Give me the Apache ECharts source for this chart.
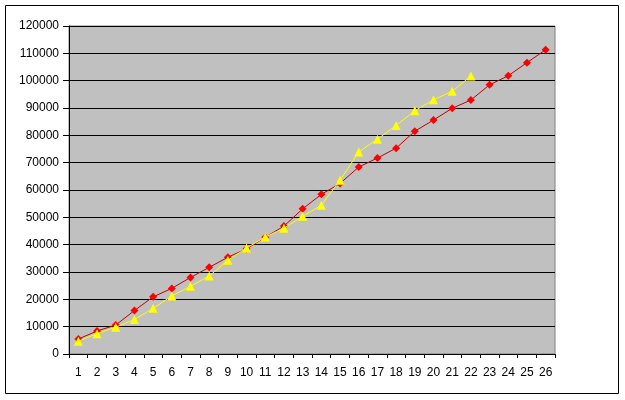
<!DOCTYPE html>
<html>
<head>
<meta charset="utf-8">
<script src="https://cdn.jsdelivr.net/npm/echarts@6/dist/echarts.min.js"></script>
<style>
html,body{margin:0;padding:0;background:#fff;}
#c{width:625px;height:400px;}
</style>
</head>
<body>
<div id="c"></div>
<script>
var categories = ['1','2','3','4','5','6','7','8','9','10','11','12','13','14','15','16','17','18','19','20','21','22','23','24','25','26'];
var redSeries = [5500, 8400, 10600, 15900, 20900, 24000, 28000, 31700, 35400, 38500, 42700, 46800, 53100, 58400, 62400, 68400, 71700, 75300, 81500, 85600, 89900, 92900, 98500, 101800, 106600, 111300];
var yellowSeries = [4700, 7400, 9800, 12600, 16700, 21200, 24800, 28500, 34300, 38800, 42800, 46000, 50400, 54400, 63600, 73900, 78600, 83600, 89000, 93000, 96100, 101700];
var yTicks = {min: 0, max: 120000, interval: 10000};

var chart = echarts.init(document.getElementById('c'), null, {renderer: 'canvas'});
chart.setOption({
  animation: false,
  backgroundColor: '#ffffff',
  graphic: [{
    type: 'rect',
    shape: {x: 5.5, y: 5.5, width: 613, height: 388},
    style: {fill: 'none', stroke: '#000', lineWidth: 1},
    silent: true
  }],
  grid: {
    left: 69, right: 70, top: 26, bottom: 46,
    show: true,
    backgroundColor: '#C0C0C0',
    borderColor: '#808080',
    borderWidth: 1
  },
  xAxis: {
    type: 'category',
    data: categories,
    boundaryGap: true,
    axisLine: {lineStyle: {color: '#000', width: 1}},
    axisTick: {show: true, alignWithLabel: false, length: 4, lineStyle: {color: '#000'}},
    axisLabel: {color: '#000', fontFamily: 'Liberation Sans, Arial', fontSize: 12, margin: 13, interval: 0},
    splitLine: {show: false}
  },
  yAxis: {
    type: 'value',
    min: yTicks.min, max: yTicks.max, interval: yTicks.interval,
    axisLine: {show: true, lineStyle: {color: '#000', width: 1}},
    axisTick: {show: true, length: 6, lineStyle: {color: '#000'}},
    axisLabel: {color: '#000', fontFamily: 'Liberation Sans, Arial', fontSize: 12, margin: 10,
      formatter: function (v) { return String(v); }},
    splitLine: {show: true, lineStyle: {color: '#000', width: 1}}
  },
  series: [{
    name: 'A',
    type: 'line',
    data: redSeries,
    symbol: 'diamond',
    symbolSize: 8,
    lineStyle: {color: '#C00000', width: 1},
    itemStyle: {color: '#FF0000', borderWidth: 0},
    z: 2
  }, {
    name: 'B',
    type: 'line',
    data: yellowSeries,
    symbol: 'triangle',
    symbolSize: 9,
    lineStyle: {color: '#FFFF00', width: 1},
    itemStyle: {color: '#FFFF00', borderWidth: 0},
    z: 3
  }]
});
</script>
</body>
</html>
